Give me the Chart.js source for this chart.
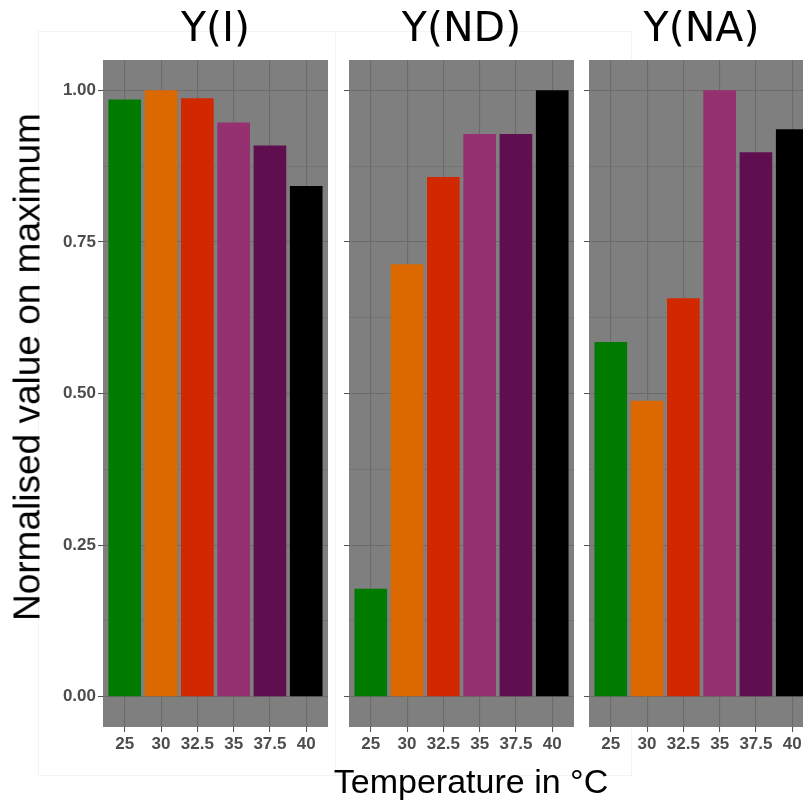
<!DOCTYPE html>
<html>
<head>
<meta charset="utf-8">
<script src="https://cdn.jsdelivr.net/npm/chart.js@4.4.1/dist/chart.umd.min.js"></script>
<style>
  html, body { margin: 0; padding: 0; background: #ffffff; overflow: hidden; }
  #wrap { position: relative; width: 803px; height: 801px; overflow: hidden; }
  canvas { position: absolute; top: 0; }
  .frame { position: absolute; border: 1px solid #f3f3f3; box-sizing: border-box; }
  .axis-title { position: absolute; white-space: nowrap; font-family: "Liberation Sans", Arial, sans-serif; color: #000; line-height: 1; }
</style>
</head>
<body>
<div id="wrap">
  <div class="frame" style="left:38px;top:31px;width:298px;height:745px"></div>
  <div class="frame" style="left:335px;top:31px;width:297px;height:745px"></div>
  <canvas id="p1" width="328" height="801" style="left:0px"></canvas>
  <canvas id="p2" width="235" height="801" style="left:339px"></canvas>
  <canvas id="p3" width="235" height="801" style="left:579px"></canvas>
  <div class="axis-title" style="left:27px;top:367px;font-size:37px;transform:translate(-50%,-50%) rotate(-90deg)">Normalised value on maximum</div>
  <div class="axis-title" style="left:471px;top:781px;font-size:34px;transform:translate(-50%,-50%)">Temperature in °C</div>
</div>
<script>
// temperatures (x categories) and bar colours
const temperatures = ['25', '30', '32.5', '35', '37.5', '40'];
const barColors = ['#007b00', '#dc6900', '#d22800', '#953171', '#5f0f50', '#000000'];

// normalised values per facet
const valuesI  = [0.985, 1.000, 0.987, 0.947, 0.909, 0.842];
const valuesND = [0.178, 0.713, 0.857, 0.928, 0.928, 1.000];
const valuesNA = [0.585, 0.488, 0.657, 1.000, 0.898, 0.936];

const yTicks = [0, 0.125, 0.25, 0.375, 0.5, 0.625, 0.75, 0.875, 1];

const isMajor = (v) => Math.abs(v * 4 - Math.round(v * 4)) < 1e-6;

// grey panel behind the grid
const panelBg = {
  id: 'panelBg',
  beforeDraw(chart) {
    const a = chart.chartArea;
    const ctx = chart.ctx;
    ctx.save();
    ctx.fillStyle = '#7f7f7f';
    ctx.fillRect(a.left, a.top, a.right - a.left, a.bottom - a.top);
    ctx.restore();
  }
};

function makeFacet(id, title, values, axisWidth, showLabels) {
  const tickFont = { family: 'Liberation Sans, Arial, sans-serif', size: 17, weight: 'bold' };
  return new Chart(document.getElementById(id), {
    type: 'bar',
    data: {
      datasets: [{
        data: values.map((v, i) => ({ x: i, y: v })),
        backgroundColor: barColors,
        borderWidth: 0,
        barPercentage: 0.9,
        categoryPercentage: 1
      }]
    },
    options: {
      responsive: false,
      animation: false,
      devicePixelRatio: 1,
      layout: { padding: 0 },
      plugins: {
        legend: { display: false },
        tooltip: { enabled: false },
        title: {
          display: true,
          text: title,
          fullSize: false,
          color: '#000',
          font: { family: 'DejaVu Sans', size: 41, weight: 'normal', lineHeight: 1 },
          padding: { top: 10, bottom: 9 }
        }
      },
      scales: {
        x: {
          type: 'linear',
          min: -0.6,
          max: 5.6,
          offset: false,
          afterBuildTicks: (s) => { s.ticks = temperatures.map((t, i) => ({ value: i })); },
          afterFit: (s) => { s.height = 74; },
          border: { display: false },
          grid: { offset: false, color: '#6b6b6b', lineWidth: 1.1, tickLength: 5, tickColor: '#4d4d4d', tickWidth: 1 },
          ticks: {
            callback: (v) => temperatures[v],
            color: '#4d4d4d',
            font: tickFont,
            padding: 2,
            maxRotation: 0,
            autoSkip: false
          }
        },
        y: {
          min: -0.05,
          max: 1.05,
          afterBuildTicks: (s) => { s.ticks = yTicks.map(v => ({ value: v })); },
          afterFit: (s) => { s.width = axisWidth; },
          border: { display: false },
          grid: {
            color: '#6b6b6b',
            lineWidth: (c) => isMajor(c.tick.value) ? 1.1 : 0.55,
            tickLength: 5,
            tickWidth: 1,
            tickColor: (c) => isMajor(c.tick.value) ? '#4d4d4d' : 'rgba(0,0,0,0)'
          },
          ticks: {
            callback: (v) => (showLabels && isMajor(v)) ? v.toFixed(2) : '',
            color: '#4d4d4d',
            font: tickFont,
            padding: 2,
            autoSkip: false
          }
        }
      }
    },
    plugins: [panelBg]
  });
}

makeFacet('p1', 'Y(I)', valuesI, 103, true);
makeFacet('p2', 'Y(ND)', valuesND, 10, false);
makeFacet('p3', 'Y(NA)', valuesNA, 10, false);
</script>
</body>
</html>
